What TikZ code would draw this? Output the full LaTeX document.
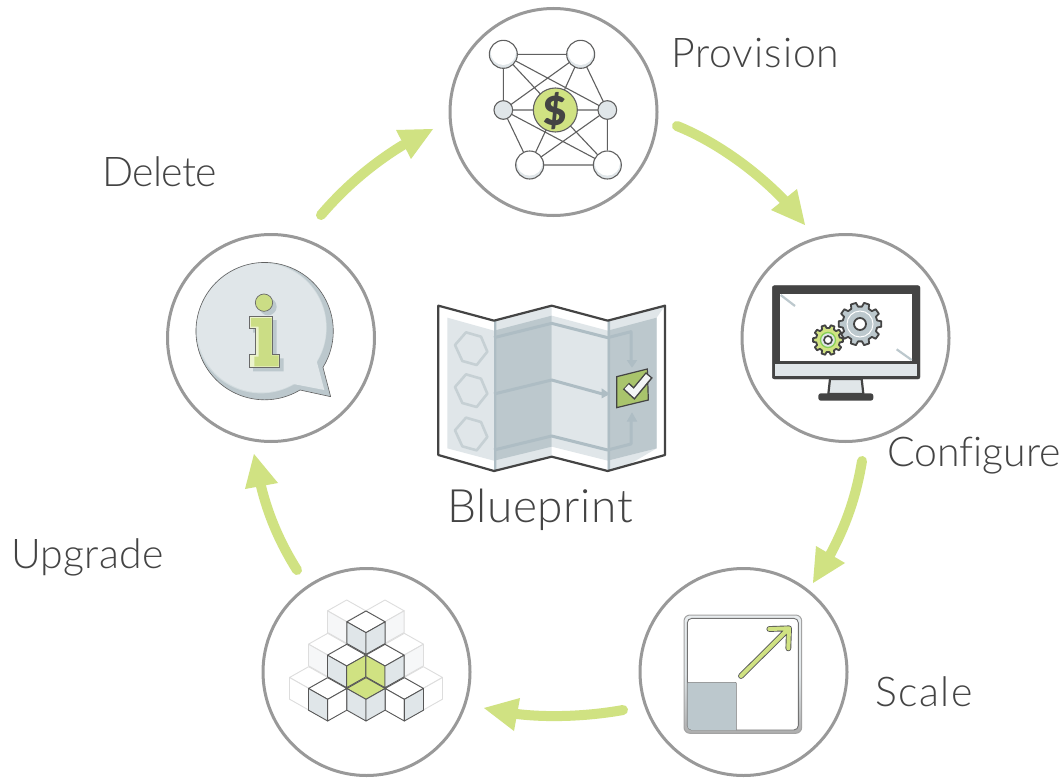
\documentclass[tikz,border=0pt]{standalone}
\usepackage{fontspec}
\setmainfont{Lato}[UprightFont=* Light,BoldFont=* Black,Ligatures=NoCommon]
\definecolor{lime}{HTML}{D0E282}
\definecolor{limedot}{HTML}{CBDD85}
\definecolor{boxgreen}{HTML}{A9C46C}
\definecolor{ringgray}{HTML}{999999}
\definecolor{ink}{HTML}{444444}
\definecolor{pale}{HTML}{E0E6E9}
\definecolor{slate}{HTML}{BCC8CD}
\definecolor{flow}{HTML}{AEBDC4}
\definecolor{ghost}{HTML}{DDDDDD}
\definecolor{ghostfill}{HTML}{F6F7F8}
\tikzset{
  ring/.style={circle,draw=ringgray,line width=3pt,minimum size=207pt,inner sep=0pt,fill=white},
  label/.style={anchor=base west,text=ink,inner sep=0pt,font=\fontsize{41}{48}\selectfont},
  flowline/.style={line width=10pt,draw=lime,line cap=round},
  flowhead/.style={fill=lime},
  link/.style={draw=ink!85,line width=1.1pt},
  zoomA/.style={x=.33333pt,y=-.33333pt},
  darkline/.style={draw=ink,line width=2.2pt,line join=round},
}
\newcommand{\spaced}[2]{{\addfontfeature{LetterSpace=#1}#2}}
% isometric cube: C-vertex x, y, top, left, right fill, stroke
\newcommand{\cubeat}[6]{%
  \begin{scope}[shift={(#1,#2)}]
    \path[fill=#3,draw=#6,line width=.9pt,line join=round] (0,0) -- (-57.5,-32.5) -- (0,-65) -- (57.5,-32.5) -- cycle;
    \path[fill=#4,draw=#6,line width=.9pt,line join=round] (0,0) -- (-57.5,-32.5) -- (-57.5,32.5) -- (0,65) -- cycle;
    \path[fill=#5,draw=#6,line width=.9pt,line join=round] (0,0) -- (57.5,-32.5) -- (57.5,32.5) -- (0,65) -- cycle;
  \end{scope}}
\newcommand{\gearat}[6]{%
  \begin{scope}[shift={(#1,#2)}]
    \pgfmathsetmacro{\gs}{360/#3}
    \draw[fill=#6,draw=ink,line width=1.8pt,line join=round] (-.32*\gs:#5)
      \foreach \gi in {0,...,\numexpr#3-1\relax}{
        -- ({\gi*\gs-.32*\gs}:#5) -- ({\gi*\gs-.2*\gs}:#4) -- ({\gi*\gs+.2*\gs}:#4) -- ({\gi*\gs+.32*\gs}:#5)
      } -- cycle;
  \end{scope}}
\newcommand{\bignode}[2]{%
  \fill[pale] (#1,#2) circle (42);
  \fill[white] (#1,#2-6) circle (38);
  \draw[link,line width=1.1pt] (#1,#2) circle (42);}
\begin{document}
\begin{tikzpicture}[x=1pt,y=-1pt]
\useasboundingbox (0,0) rectangle (1062,778);
\fill[white] (0,0) rectangle (1062,778);

% rings
\node[ring] (provision) at (553.5,112) {};
\node[ring] (configure) at (845.5,338) {};
\node[ring] (scale) at (743.5,672) {};
\node[ring] (upgrade) at (366.5,672) {};
\node[ring] (delete) at (271,338) {};

% connector ends
\coordinate (s1) at (677,126); \coordinate (e1) at (784,200);
\coordinate (s2) at (862,461); \coordinate (e2) at (830,555);
\coordinate (s3) at (623,710); \coordinate (e3) at (517,714);
\coordinate (s4) at (297,570); \coordinate (e4) at (261,486);
\coordinate (s5) at (321,215); \coordinate (e5) at (403,145);

\draw[flowline] (s1) .. controls (712,140) and (752,167) .. (e1);
\fill[flowhead] (805,225) -- (797,189) -- (771,210) -- cycle;
\draw[flowline] (s2) .. controls (856,497) and (846,525) .. (e2);
\fill[flowhead] (813,583) -- (816,546) -- (845,563) -- cycle;
\draw[flowline] (s3) .. controls (590,716) and (550,718) .. (e3);
\fill[flowhead] (484,708) -- (520,698) -- (514,731) -- cycle;
\draw[flowline] (s4) .. controls (280,543) and (268,515) .. (e4);
\fill[flowhead] (254,454) -- (245,489) -- (278,483) -- cycle;
\draw[flowline] (s5) .. controls (345,187) and (372,164) .. (e5);
\fill[flowhead] (433,129) -- (396,130) -- (411,159) -- cycle;

% ---------- Provision icon
\begin{scope}[shift={(445,0)},zoomA]
  \coordinate (tl) at (175,163); \coordinate (tr) at (407,163);
  \coordinate (bl) at (254,495); \coordinate (br) at (487,495);
  \coordinate (ml) at (175,330); \coordinate (mr) at (487,330);
  \coordinate (cc) at (331,330);
  \draw[link] (tl)--(tr) (tl)--(ml) (tl)--(cc) (tl)--(mr) (tr)--(ml) (tr)--(cc) (tr)--(mr)
              (ml)--(cc) (ml)--(bl) (ml)--(br) (mr)--(cc) (mr)--(br) (mr)--(bl)
              (cc)--(bl) (cc)--(br) (bl)--(br);
  \bignode{175}{163}\bignode{407}{163}\bignode{254}{495}\bignode{487}{495}
  \draw[fill=pale,link] (ml) circle (28);
  \draw[fill=pale,link] (mr) circle (28);
  \draw[fill=lime,link] (cc) circle (66);
  \node[text=ink,inner sep=0pt,font=\fontsize{40}{40}\bfseries\selectfont] (dollar) at (331,333) {\$};
\end{scope}

% ---------- Configure icon
\begin{scope}[shift={(740,230)},zoomA]
  \draw[fill=ink,draw=ink,rounded corners=2pt] (97,167) rectangle (540,447);
  \fill[white] (120,192) rectangle (517,392);
  \fill[pale] (105,402) rectangle (532,438);
  \draw[fill=pale,draw=ink,line width=2.2pt] (270,447) -- (365,447) -- (370,492) -- (265,492) -- cycle;
  \fill[ink,rounded corners=2.5pt] (235,490) rectangle (400,512);
  \draw[slate,line width=2.2pt] (122,195) -- (165,228);
  \draw[slate,line width=2.2pt] (470,358) -- (515,390);
\end{scope}
\gearat{860}{324}{10}{21.5}{17.5}{slate}
\draw[white,line width=1pt] (860,324) circle (13);
\draw[fill=white,draw=ink,line width=1.8pt] (860,324) circle (6);
\gearat{828}{340}{10}{15}{12}{lime}
\draw[draw=boxgreen!80!green,fill=pale,line width=1.3pt] (828,340) circle (7.5);
\draw[fill=white,draw=ink,line width=1.6pt] (828,340) circle (4);

% ---------- Scale icon
\begin{scope}[shift={(635,565)},zoomA]
  \draw[draw=ringgray!90,line width=1pt,rounded corners=6pt,top color=pale!70,bottom color=ringgray!80,middle color=pale] (147,150) rectangle (500,505);
  \draw[fill=white,draw=ink!75,line width=.9pt,rounded corners=4.5pt] (157,160) rectangle (490,495);
  \begin{scope}
    \clip[rounded corners=4.5pt] (157,160) rectangle (490,495);
    \draw[fill=slate,draw=ink!70,line width=.6pt,rounded corners=.8pt] (157,352) -| (304,500) -- (157,500) -- cycle;
  \end{scope}
  \coordinate (as) at (318,333); \coordinate (at) at (462,190);
  \coordinate (a1) at (403,192); \coordinate (a2) at (460,250);
  \draw[ink!90,line width=5.8pt,line cap=round,line join=round] (as) -- (at) (a1) -- (at) -- (a2);
  \draw[lime,line width=4pt,line cap=round,line join=round] (as) -- (at) (a1) -- (at) -- (a2);
\end{scope}

% ---------- Upgrade icon
\begin{scope}[shift={(260,565)},zoomA]
  \cubeat{260}{170}{white}{ghostfill}{white}{ghost}
  \cubeat{375}{170}{white}{white}{ghostfill}{ghost}
  \cubeat{203}{270}{white}{ghostfill}{white}{ghost}
  \cubeat{433}{270}{white}{white}{ghostfill}{ghost}
  \cubeat{146}{370}{white}{white}{white}{ghost}
  \cubeat{490}{370}{white}{white}{white}{ghost}
  \cubeat{318}{203}{white}{pale}{pale}{ink!90}
  \cubeat{260}{303}{white}{pale}{lime}{ink!90}
  \cubeat{375}{303}{white}{lime}{pale}{ink!90}
  \cubeat{203}{403}{white}{pale}{white}{ink!90}
  \cubeat{433}{403}{white}{white}{pale}{ink!90}
  \cubeat{318}{403}{lime}{pale}{pale}{ink!90}
\end{scope}

% ---------- Delete icon
\begin{scope}[shift={(165,230)},zoomA]
  \begin{scope}
    \clip (405,480) arc[start angle=59,end angle=391.8,radius=206] -- (497,500) -- cycle;
    \fill[slate] (60,60) rectangle (540,540);
    \fill[pale!65!slate] (288,293) circle (197);
  \end{scope}
  \fill[pale] (385,462) arc[start angle=60.4,end angle=391.2,radius=194] -- (478,480) -- cycle;
  \draw[draw=ink!85,line width=.6pt,line join=round]
    (405,480) arc[start angle=59,end angle=391.8,radius=206] -- (497,500) -- cycle;
  \fill[slate] (309,230) circle (26);
  \fill[slate] (264,270) -- (335,270) -- (335,385) -- (356,385) -- (356,424) -- (264,424) -- (264,385) -- (284,385) -- (284,308) -- (264,308) -- cycle;
  \draw[fill=limedot,draw=ink!80,line width=.7pt] (297,218) circle (26);
  \draw[fill=lime!40,draw=ink!80,line width=.7pt] (252,258) -- (323,258) -- (323,373) -- (344,373) -- (344,412) -- (252,412) -- (252,373) -- (272,373) -- (272,296) -- (252,296) -- cycle;
  \fill[limedot] (258,264) -- (320,264) -- (320,376) -- (341,376) -- (341,409) -- (268,409) -- (268,380) -- (281,380) -- (281,290) -- (258,290) -- cycle;
\end{scope}

% ---------- Blueprint icon
\begin{scope}[shift={(430,295)},zoomA]
  \fill[white] (25,32) -- (192,77) -- (365,32) -- (533,77) -- (705,32) -- (705,480) -- (533,528) -- (365,485) -- (192,528) -- (25,480) -- cycle;
  \fill[pale] (192,77) -- (365,32) -- (365,485) -- (192,528) -- cycle;
  \fill[pale] (533,77) -- (705,32) -- (680,68) -- (680,460) -- (533,497) -- cycle;
  \fill[pale] (533,497) -- (680,460) -- (600,507) -- (533,528) -- cycle;
  \fill[pale] (52,68) -- (192,107) -- (192,497) -- (52,460) -- cycle;
  \fill[pale] (365,62) -- (533,107) -- (533,497) -- (365,455) -- cycle;
  \fill[slate] (192,107) -- (365,62) -- (365,455) -- (192,497) -- cycle;
  \fill[slate] (533,107) -- (680,68) -- (680,460) -- (533,497) -- cycle;
  \fill[flow] (192,77) -- (199,75) -- (199,526) -- (192,528) -- cycle;
  \fill[flow] (533,77) -- (540,75) -- (540,526) -- (533,528) -- cycle;
  \begin{scope}[flow,line width=3pt,line join=round]
    \draw (192,128) -- (365,85) -- (533,128) -- (603,110) -- (603,197);
    \draw (192,297) -- (365,255) -- (518,297);
    \draw (192,465) -- (365,423) -- (533,465) -- (603,447) -- (603,378);
  \end{scope}
  \fill[flow] (590,195) -- (622,195) -- (606,218) -- cycle;
  \fill[flow] (515,280) -- (540,297) -- (515,310) -- cycle;
  \fill[flow] (590,380) -- (622,380) -- (606,352) -- cycle;
  \begin{scope}[draw=slate!85,line width=2.6pt,line join=round]
    \draw (108,112) -- (153,125) -- (172,170) -- (140,210) -- (97,198) -- (75,150) -- cycle;
    \draw (108,238) -- (153,251) -- (172,296) -- (140,336) -- (97,324) -- (75,276) -- cycle;
    \draw (108,368) -- (153,381) -- (172,426) -- (140,466) -- (97,454) -- (75,406) -- cycle;
  \end{scope}
  \draw[darkline] (25,32) -- (192,77) -- (365,32) -- (533,77) -- (705,32) -- (705,480) -- (533,528) -- (365,485) -- (192,528) -- (25,480) -- cycle;
  \draw[fill=boxgreen,draw=ink,line width=1.2pt] (560,245) -- (652,222) -- (655,315) -- (560,338) -- cycle;
  \draw[ink,line width=9pt] (588,273) -- (612,295) -- (658,240);
  \draw[pale!40,line width=6pt] (590,275) -- (612,295) -- (655,243);
\end{scope}

% ---------- Labels
\node[label] (tprovision) at (671,68) {\spaced{2.3}{Provision}};
\node[label] (tdelete) at (102,186) {\spaced{-1.5}{Delete}};
\node[label] (tconfigure) at (887,466) {Configure};
\node[label] (tscale) at (875,706) {\spaced{3.6}{Scale}};
\node[label] (tupgrade) at (11,568) {\spaced{0.8}{Upgrade}};
\node[label,font=\fontsize{46}{54}\selectfont] (tblueprint) at (447,522) {\spaced{1.4}{Blueprint}};
\end{tikzpicture}
\end{document}
